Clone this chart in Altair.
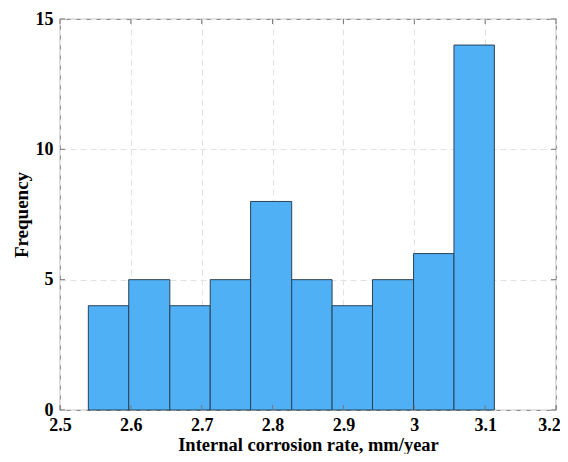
import altair as alt
import pandas as pd

edges = [2.540, 2.597, 2.655, 2.712, 2.769, 2.827, 2.884, 2.941, 2.999, 3.056, 3.113]
counts = [4, 5, 4, 5, 8, 5, 4, 5, 6, 14]
xticks = [2.5, 2.6, 2.7, 2.8, 2.9, 3.0, 3.1, 3.2]
yticks = [0, 5, 10, 15]

W, H = 496, 391
FONT = "Liberation Serif"

df = pd.DataFrame({"start": edges[:-1], "end": edges[1:], "count": counts})
dx = pd.DataFrame({"v": xticks})
dy = pd.DataFrame({"v": yticks})

xscale = alt.Scale(domain=[2.5, 3.2], nice=False, zero=False)
yscale = alt.Scale(domain=[0, 15], nice=False)

xaxis = alt.Axis(values=xticks, format="~g", title="Internal corrosion rate, mm/year",
                 grid=True, gridDash=[6, 4], gridColor="#e2e2e2", ticks=False, domain=False,
                 labelFlush=False,
                 labelOffset={"condition": {"test": "datum.value > 3.15", "value": -7}, "value": 0},
                 labelFont=FONT, labelFontSize=18, labelFontWeight="bold", labelColor="black",
                 labelPadding=6, titleFont=FONT, titleFontSize=18.5, titleFontWeight="bold",
                 titleColor="black", titleBaseline="alphabetic", titleY=40)
yaxis = alt.Axis(values=yticks, title="Frequency",
                 grid=True, gridDash=[6, 4], gridColor="#e2e2e2", ticks=False, domain=False,
                 labelFlush=False,
                 labelFont=FONT, labelFontSize=18, labelFontWeight="bold", labelColor="black",
                 labelPadding=7, titleFont=FONT, titleFontSize=19, titleFontWeight="bold",
                 titleColor="black", titlePadding=4)

bars = alt.Chart(df).mark_bar(color="#50B0F6", stroke="#2b4257", strokeWidth=1).encode(
    x=alt.X("start:Q", scale=xscale, axis=xaxis),
    x2="end:Q",
    y=alt.Y("count:Q", scale=yscale, axis=yaxis),
    y2=alt.datum(0),
)

tick_color = "#777777"
xb = alt.Chart(dx).mark_rule(color=tick_color, strokeWidth=1).encode(
    x=alt.X("v:Q", scale=xscale), y=alt.value(H), y2=alt.value(H - 5))
xt = alt.Chart(dx).mark_rule(color=tick_color, strokeWidth=1).encode(
    x=alt.X("v:Q", scale=xscale), y=alt.value(0), y2=alt.value(5))
yl = alt.Chart(dy).mark_rule(color=tick_color, strokeWidth=1).encode(
    y=alt.Y("v:Q", scale=yscale), x=alt.value(0), x2=alt.value(5))
yr = alt.Chart(dy).mark_rule(color=tick_color, strokeWidth=1).encode(
    y=alt.Y("v:Q", scale=yscale), x=alt.value(W), x2=alt.value(W - 5))

chart = alt.layer(bars, xb, xt, yl, yr).properties(
    width=W, height=H,
    autosize=alt.AutoSizeParams(type="none"),
    padding={"left": 52, "top": 11, "right": 4, "bottom": 44},
).configure_view(stroke="#8a8a8a", strokeWidth=1.2)

chart.save("out.html", embed_options={"renderer": "svg", "actions": False})
